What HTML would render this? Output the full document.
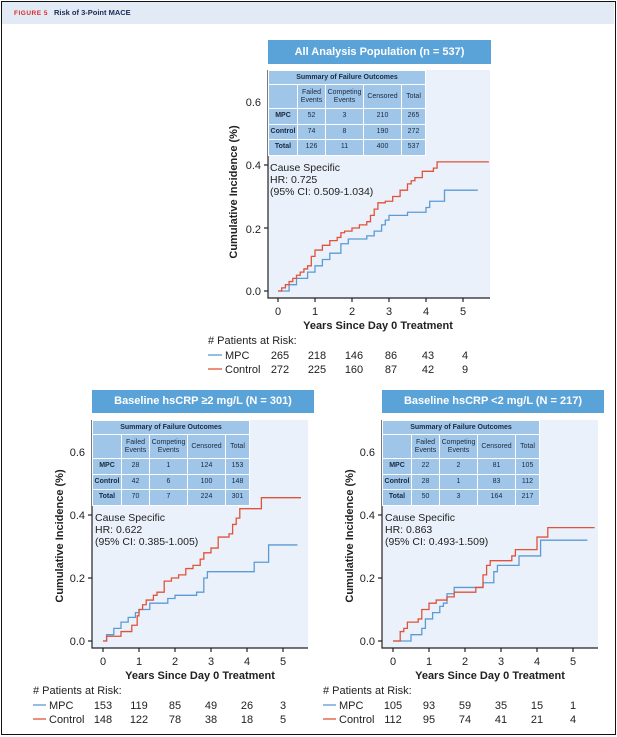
<!DOCTYPE html>
<html><head><meta charset="utf-8">
<style>
*{margin:0;padding:0;box-sizing:border-box}
body{width:617px;height:737px;background:#fff;position:relative;overflow:hidden;font-family:"Liberation Sans",sans-serif}
#frame{position:absolute;left:1px;top:1px;width:615px;height:734px;border:1.5px solid #111}
#hdr{position:absolute;left:2px;top:2px;width:612px;height:22px;background:#e2ebf5;font-size:7.5px;font-weight:bold;line-height:22px;padding-left:12px;color:#1a2a55}
#hdr span{color:#d62a2a;letter-spacing:.5px;margin-right:6px;font-size:6.5px}
.band{position:absolute;background:#5aa3d8;color:#fff;font-weight:bold;font-size:11px;text-align:center;line-height:24px}
table.s{position:absolute;border-collapse:collapse;background:#9fc5e8;font-size:7px;color:#1a2a40;text-align:center}
table.s td{border:1.5px solid #fff;padding:0;line-height:8px}
table.s tr.t td{height:14px;font-weight:bold}
table.s tr.h td{height:24px}
table.s tr.r td{height:15.6px}
table.s tr.r td:first-child{font-weight:bold}
svg{position:absolute;left:0;top:0}
</style></head><body>
<div id="frame"></div>
<div id="hdr"><span>FIGURE 5</span>Risk of 3-Point MACE</div>
<div class="band" style="left:268px;top:40px;width:223px;height:24px">All Analysis Population (n = 537)</div>
<div class="band" style="left:92px;top:390px;width:222px;height:23px;line-height:23px">Baseline hsCRP ≥2 mg/L (N = 301)</div>
<div class="band" style="left:382px;top:390px;width:222px;height:23px;line-height:23px">Baseline hsCRP &lt;2 mg/L (N = 217)</div>

<svg id="sv" width="617" height="737" xmlns="http://www.w3.org/2000/svg" font-family="Liberation Sans, sans-serif">
<rect x="268" y="70" width="222" height="228" fill="#ebf1fa"/>
<rect x="92" y="420" width="216" height="228" fill="#ebf1fa"/>
<rect x="382" y="420" width="216" height="228" fill="#ebf1fa"/>
<g id="curves"></g>
<g id="axes" stroke="#222" stroke-width="1.2" fill="none"></g>
<g font-size="11" fill="#222" text-anchor="end">
<text x="261" y="295">0.0</text><text x="261" y="233">0.2</text><text x="261" y="169">0.4</text><text x="261" y="106">0.6</text>
<text x="85" y="645">0.0</text><text x="85" y="582">0.2</text><text x="85" y="519">0.4</text><text x="85" y="456">0.6</text>
<text x="375" y="645">0.0</text><text x="375" y="582">0.2</text><text x="375" y="519">0.4</text><text x="375" y="456">0.6</text>
</g>
<g font-size="11" fill="#222" text-anchor="middle">
<text x="278" y="315">0</text><text x="315" y="315">1</text><text x="352" y="315">2</text><text x="389" y="315">3</text><text x="426" y="315">4</text><text x="463" y="315">5</text>
<text x="103" y="665">0</text><text x="139" y="665">1</text><text x="175" y="665">2</text><text x="211" y="665">3</text><text x="247" y="665">4</text><text x="283" y="665">5</text>
<text x="393" y="665">0</text><text x="429" y="665">1</text><text x="465" y="665">2</text><text x="501" y="665">3</text><text x="537" y="665">4</text><text x="573" y="665">5</text>
</g>
<g font-size="11" font-weight="bold" fill="#222" text-anchor="middle">
<text x="378" y="329">Years Since Day 0 Treatment</text>
<text x="200" y="679">Years Since Day 0 Treatment</text>
<text x="490" y="679">Years Since Day 0 Treatment</text>
<text transform="translate(237,192) rotate(-90)">Cumulative Incidence (%)</text>
<text transform="translate(63,536) rotate(-90)">Cumulative Incidence (%)</text>
<text transform="translate(353,536) rotate(-90)">Cumulative Incidence (%)</text>
</g>
<g font-size="10.5" fill="#222">
<text x="270" y="171">Cause Specific</text><text x="270" y="183">HR: 0.725</text><text x="270" y="195">(95% CI: 0.509-1.034)</text>
<text x="95" y="521">Cause Specific</text><text x="95" y="533">HR: 0.622</text><text x="95" y="545">(95% CI: 0.385-1.005)</text>
<text x="385" y="521">Cause Specific</text><text x="385" y="533">HR: 0.863</text><text x="385" y="545">(95% CI: 0.493-1.509)</text>
</g>
<g font-size="11" fill="#222">
<text x="208" y="344">#&#160;Patients at Risk:</text>
<line x1="208" y1="355" x2="222" y2="355" stroke="#5b9bd5" stroke-width="1.3"/><text x="225" y="359">MPC</text>
<line x1="208" y1="369" x2="222" y2="369" stroke="#e0533a" stroke-width="1.3"/><text x="225" y="373">Control</text>
<g text-anchor="middle">
<text x="280" y="359">265</text><text x="317" y="359">218</text><text x="354" y="359">146</text><text x="391" y="359">86</text><text x="428" y="359">43</text><text x="465" y="359">4</text>
<text x="280" y="373">272</text><text x="317" y="373">225</text><text x="354" y="373">160</text><text x="391" y="373">87</text><text x="428" y="373">42</text><text x="465" y="373">9</text>
</g>
<text x="33" y="694">#&#160;Patients at Risk:</text>
<line x1="33" y1="705" x2="46" y2="705" stroke="#5b9bd5" stroke-width="1.3"/><text x="49" y="709">MPC</text>
<line x1="33" y1="719" x2="46" y2="719" stroke="#e0533a" stroke-width="1.3"/><text x="49" y="723">Control</text>
<g text-anchor="middle">
<text x="103" y="709">153</text><text x="139" y="709">119</text><text x="175" y="709">85</text><text x="211" y="709">49</text><text x="247" y="709">26</text><text x="283" y="709">3</text>
<text x="103" y="723">148</text><text x="139" y="723">122</text><text x="175" y="723">78</text><text x="211" y="723">38</text><text x="247" y="723">18</text><text x="283" y="723">5</text>
</g>
<text x="323" y="694">#&#160;Patients at Risk:</text>
<line x1="323" y1="705" x2="336" y2="705" stroke="#5b9bd5" stroke-width="1.3"/><text x="339" y="709">MPC</text>
<line x1="323" y1="719" x2="336" y2="719" stroke="#e0533a" stroke-width="1.3"/><text x="339" y="723">Control</text>
<g text-anchor="middle">
<text x="393" y="709">105</text><text x="429" y="709">93</text><text x="465" y="709">59</text><text x="501" y="709">35</text><text x="537" y="709">15</text><text x="573" y="709">1</text>
<text x="393" y="723">112</text><text x="429" y="723">95</text><text x="465" y="723">74</text><text x="501" y="723">41</text><text x="537" y="723">21</text><text x="573" y="723">4</text>
</g>
</g>
</svg>

<table class="s" style="left:268px;top:70px;width:158px">
<tr class="t"><td colspan="5">Summary of Failure Outcomes</td></tr>
<tr class="h"><td style="width:29px"></td><td style="width:28px">Failed<br>Events</td><td style="width:38px">Competing<br>Events</td><td style="width:38px">Censored</td><td>Total</td></tr>
<tr class="r"><td>MPC</td><td>52</td><td>3</td><td>210</td><td>265</td></tr>
<tr class="r"><td>Control</td><td>74</td><td>8</td><td>190</td><td>272</td></tr>
<tr class="r"><td>Total</td><td>126</td><td>11</td><td>400</td><td>537</td></tr>
</table>
<table class="s" style="left:92px;top:420px;width:158px">
<tr class="t"><td colspan="5">Summary of Failure Outcomes</td></tr>
<tr class="h"><td style="width:29px"></td><td style="width:28px">Failed<br>Events</td><td style="width:38px">Competing<br>Events</td><td style="width:38px">Censored</td><td>Total</td></tr>
<tr class="r"><td>MPC</td><td>28</td><td>1</td><td>124</td><td>153</td></tr>
<tr class="r"><td>Control</td><td>42</td><td>6</td><td>100</td><td>148</td></tr>
<tr class="r"><td>Total</td><td>70</td><td>7</td><td>224</td><td>301</td></tr>
</table>
<table class="s" style="left:382px;top:420px;width:158px">
<tr class="t"><td colspan="5">Summary of Failure Outcomes</td></tr>
<tr class="h"><td style="width:29px"></td><td style="width:28px">Failed<br>Events</td><td style="width:38px">Competing<br>Events</td><td style="width:38px">Censored</td><td>Total</td></tr>
<tr class="r"><td>MPC</td><td>22</td><td>2</td><td>81</td><td>105</td></tr>
<tr class="r"><td>Control</td><td>28</td><td>1</td><td>83</td><td>112</td></tr>
<tr class="r"><td>Total</td><td>50</td><td>3</td><td>164</td><td>217</td></tr>
</table>

<script>
var NS="http://www.w3.org/2000/svg";
var cg=document.getElementById("curves"),ag=document.getElementById("axes");
function el(p,t,a){var e=document.createElementNS(NS,t);for(var k in a)e.setAttribute(k,a[k]);p.appendChild(e);return e;}
var panels=[
 {x0:278,xs:37,y0:291,L:268,R:490,T:70,B:298,
  red:[[0,0],[.1,.01],[.2,.02],[.3,.03],[.4,.04],[.5,.05],[.6,.06],[.7,.07],[.8,.08],[.9,.11],[1,.13],[1.2,.145],[1.4,.16],[1.6,.17],[1.7,.185],[1.8,.19],[2,.2],[2.2,.21],[2.4,.22],[2.5,.24],[2.6,.26],[2.7,.28],[2.9,.285],[3.1,.3],[3.3,.32],[3.5,.34],[3.6,.35],[3.7,.36],[3.9,.38],[4.2,.39],[4.3,.41]],redEnd:5.7,
  blue:[[0,0],[.3,.02],[.5,.04],[.8,.06],[1,.08],[1.2,.1],[1.4,.12],[1.7,.15],[1.9,.165],[2.4,.175],[2.6,.19],[2.8,.21],[2.9,.225],[3,.24],[3.5,.25],[4,.265],[4.1,.285],[4.5,.32]],blueEnd:5.4},
 {x0:103,xs:36,y0:641,L:92,R:308,T:420,B:648,
  red:[[0,0],[.1,.015],[.5,.03],[.8,.05],[.95,.08],[1,.1],[1.1,.115],[1.2,.13],[1.4,.145],[1.5,.155],[1.7,.19],[1.9,.2],[2.1,.21],[2.3,.23],[2.5,.24],[2.7,.26],[2.8,.28],[3,.295],[3.2,.33],[3.5,.34],[3.6,.37],[3.7,.39],[3.8,.42],[4.4,.455]],redEnd:5.5,
  blue:[[0,0],[.1,.02],[.3,.04],[.5,.06],[.7,.075],[.9,.09],[1,.1],[1.3,.12],[1.8,.135],[2,.145],[2.6,.155],[2.8,.2],[2.9,.22],[4.2,.25],[4.6,.305]],blueEnd:5.4},
 {x0:393,xs:36,y0:641,L:382,R:598,T:420,B:648,
  red:[[0,0],[.2,.03],[.3,.04],[.4,.06],[.7,.07],[.8,.1],[1,.12],[1.2,.13],[1.5,.14],[1.7,.155],[2.3,.17],[2.5,.21],[2.6,.24],[2.7,.255],[3.3,.27],[3.4,.29],[4,.33],[4.3,.36]],redEnd:5.6,
  blue:[[0,0],[.5,.02],[.8,.04],[.9,.07],[1.1,.09],[1.3,.11],[1.4,.12],[1.5,.15],[1.7,.17],[2.5,.185],[2.8,.22],[2.9,.24],[3.5,.27],[4.1,.32]],blueEnd:5.4}
];
panels.forEach(function(p){
 function X(t){return p.x0+t*p.xs} function Y(v){return p.y0-v*315}
 function path(pts,end,col){var d="M"+X(pts[0][0])+","+Y(pts[0][1]);
  for(var i=1;i<pts.length;i++){d+="H"+X(pts[i][0])+"V"+Y(pts[i][1]);}
  d+="H"+X(end);el(cg,"path",{d:d,stroke:col,"stroke-width":1.3,fill:"none"});}
 path(p.blue,p.blueEnd,"#5b9bd5");path(p.red,p.redEnd,"#e0533a");
 el(ag,"path",{d:"M"+p.L+","+p.T+"V"+p.B+"H"+p.R});
 for(var v=0;v<=0.6;v+=0.2){var y=Y(v);el(ag,"path",{d:"M"+(p.L-4)+","+y+"H"+p.L});}
 for(var t=0;t<=5;t++){el(ag,"path",{d:"M"+X(t)+","+p.B+"V"+(p.B+4)});}
});
</script>
</body></html>
